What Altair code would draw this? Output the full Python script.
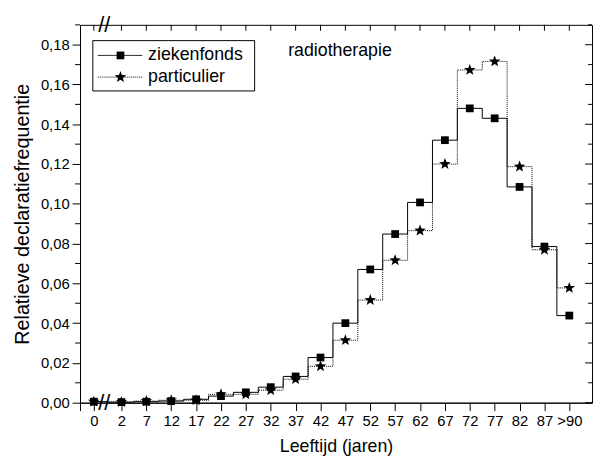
import math
import altair as alt
import pandas as pd

# ---- data ----
ages = [0, 2, 7, 12, 17, 22, 27, 32, 37, 42, 47, 52, 57, 62, 67, 72, 77, 82, 87, 92]
age_labels = ["0", "2", "7", "12", "17", "22", "27", "32", "37", "42", "47",
              "52", "57", "62", "67", "72", "77", "82", "87", ">90"]
ziekenfonds = [0.0005, 0.0003, 0.0005, 0.0008, 0.0017, 0.0033, 0.0052, 0.0078, 0.0132, 0.0227,
               0.0400, 0.0670, 0.0848, 0.1007, 0.1320, 0.1480, 0.1430, 0.1085, 0.0785, 0.0438]
particulier = [0.0005, 0.0003, 0.0008, 0.0012, 0.0012, 0.0042, 0.0042, 0.0063, 0.0118, 0.0183,
               0.0314, 0.0516, 0.0716, 0.0865, 0.1200, 0.1673, 0.1716, 0.1187, 0.0769, 0.0577]
series_names = ["ziekenfonds", "particulier"]
panel_title = "radiotherapie"
x_title = "Leeftijd (jaren)"
y_title = "Relatieve declaratiefrequentie"
y_major = [0.00, 0.02, 0.04, 0.06, 0.08, 0.10, 0.12, 0.14, 0.16, 0.18]
y_minor = [0.01, 0.03, 0.05, 0.07, 0.09, 0.11, 0.13, 0.15, 0.17, 0.19]

df = pd.DataFrame({"age": ages, "label": age_labels,
                   "ziekenfonds": ziekenfonds, "particulier": particulier})

FONT = "Liberation Sans"
W, H = 519, 383
X_MIN, X_MAX = -2, 96.56
BREAK_AGE = 0.75
SQ_SIZE, STAR_SIZE = 62, 150

# five-pointed star symbol in the [-1, 1] box
pts = []
for k in range(10):
    r = 1.0 if k % 2 == 0 else 0.42
    a = math.radians(-90 + 36 * k)
    pts.append(f"{r * math.cos(a):.3f},{r * math.sin(a):.3f}")
STAR = "M" + "L".join(pts) + "Z"

xscale = alt.Scale(domain=[X_MIN, 0, 2, X_MAX], range=[0, 14, 42, W], nice=False, zero=False)
yscale = alt.Scale(domain=[0, 0.19], nice=False, zero=False)

label_map = " : ".join(f"datum.value == {a} ? '{l}'" for a, l in zip(ages, age_labels))
x_label_expr = label_map + " : ''"
y_label_expr = "replace(format(datum.value, '.2f'), '.', ',')"

x_axis = alt.Axis(orient="bottom", values=[X_MIN] + ages, labelExpr=x_label_expr, tickSize=8,
                  title=x_title, grid=False, labelPadding=3, labelOverlap=False, labelFlush=False,
                  titlePadding=9)
y_axis = alt.Axis(orient="left", values=y_major, labelExpr=y_label_expr, tickSize=8,
                  title=y_title, grid=False, labelPadding=3, titlePadding=8, titleFontSize=20)

X = lambda f: alt.X(f, scale=xscale, axis=None)
Y = lambda f: alt.Y(f, scale=yscale, axis=None)

line_z = alt.Chart(df).mark_line(interpolate="step", color="black", strokeWidth=1).encode(
    x=alt.X("age:Q", scale=xscale, axis=x_axis),
    y=alt.Y("ziekenfonds:Q", scale=yscale, axis=y_axis))
pts_z = alt.Chart(df).mark_point(shape="square", filled=True, size=SQ_SIZE, color="black",
                                 opacity=1).encode(
    x=X("age:Q"), y=Y("ziekenfonds:Q"))
line_p = alt.Chart(df).mark_line(interpolate="step", color="black", strokeWidth=1,
                                 strokeDash=[1, 1]).encode(
    x=X("age:Q"), y=Y("particulier:Q"))
pts_p = alt.Chart(df).mark_point(shape=STAR, filled=True, size=STAR_SIZE, color="black",
                                 opacity=1).encode(
    x=X("age:Q"), y=Y("particulier:Q"))

# extra tick marks (minor left, mirrored right, mirrored top)
minor_df = pd.DataFrame({"v": y_minor})
major_df = pd.DataFrame({"v": y_major})
top_df = pd.DataFrame({"a": ages})
tick_layers = [
    alt.Chart(minor_df).mark_rule(color="black", strokeWidth=1).encode(
        y=Y("v:Q"), x=alt.value(-5), x2=alt.value(0)),
    alt.Chart(major_df).mark_rule(color="black", strokeWidth=1).encode(
        y=Y("v:Q"), x=alt.value(W - 7), x2=alt.value(W)),
    alt.Chart(minor_df).mark_rule(color="black", strokeWidth=1).encode(
        y=Y("v:Q"), x=alt.value(W - 4), x2=alt.value(W)),
    alt.Chart(top_df).mark_rule(color="black", strokeWidth=1).encode(
        x=X("a:Q"), y=alt.value(0), y2=alt.value(6)),
]

brk = pd.DataFrame({"bx": [BREAK_AGE, BREAK_AGE], "by": [0.0, 0.19]})
breaks = alt.Chart(brk).mark_text(text="//", fontSize=22, font=FONT, baseline="middle",
                                  align="center", color="black").encode(
    x=X("bx:Q"), y=Y("by:Q"))

one = pd.DataFrame({"t": [panel_title]})
title_txt = alt.Chart(one).mark_text(font=FONT, fontSize=18, align="left", baseline="alphabetic",
                                     color="black").encode(
    x=alt.value(211), y=alt.value(32), text="t:N")

leg_box = alt.Chart(one).mark_rect(fill="white", stroke="black", strokeWidth=1).encode(
    x=alt.value(13), x2=alt.value(177), y=alt.value(16), y2=alt.value(67))

legend_layers = [leg_box]
for i, (name, shape, dash, sz) in enumerate(zip(series_names, ["square", STAR],
                                                 [[1, 0], [1, 1]], [SQ_SIZE, STAR_SIZE])):
    ly = 31 + 22 * i
    ldf = pd.DataFrame({"t": [name]})
    legend_layers.append(alt.Chart(ldf).mark_rule(color="black", strokeWidth=1, strokeDash=dash).encode(
        x=alt.value(18), x2=alt.value(63), y=alt.value(ly)))
    legend_layers.append(alt.Chart(ldf).mark_point(shape=shape, filled=True, size=sz, color="black",
                                                   opacity=1).encode(
        x=alt.value(41), y=alt.value(ly)))
    legend_layers.append(alt.Chart(ldf).mark_text(font=FONT, fontSize=18, align="left",
                                                  baseline="middle", color="black").encode(
        x=alt.value(69), y=alt.value(ly), text="t:N"))

chart = alt.layer(line_z, pts_z, line_p, pts_p, *tick_layers, breaks, title_txt,
                  *legend_layers).resolve_axis(
    x="independent", y="independent"
).properties(
    width=W, height=H,
    autosize=alt.AutoSizeParams(type="none"),
    padding={"left": 73, "top": 14, "right": 1, "bottom": 53},
).configure_view(
    stroke="black", strokeWidth=1
).configure_axis(
    labelFont=FONT, titleFont=FONT, labelFontSize=15, titleFontSize=18,
    titleFontWeight="normal", labelColor="black", titleColor="black",
    tickColor="black", domainColor="black", tickWidth=1, domainWidth=1
)

chart.save("out.html", embed_options={"renderer": "svg", "actions": False})
